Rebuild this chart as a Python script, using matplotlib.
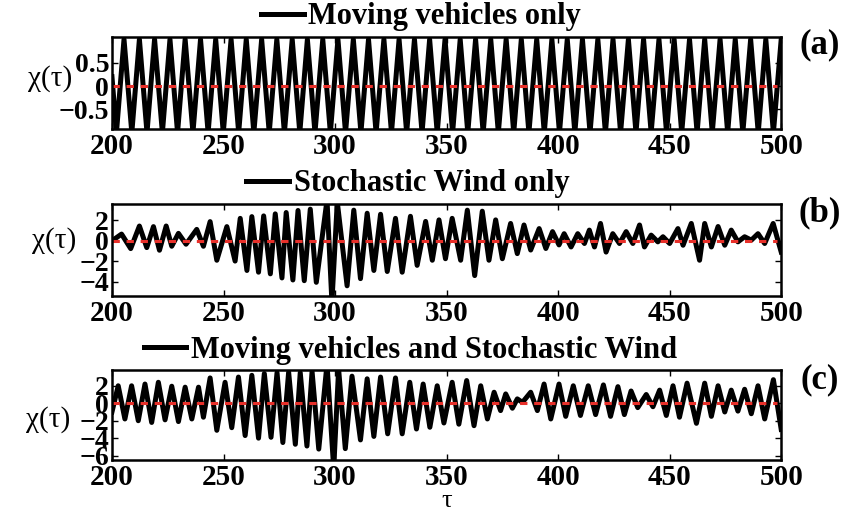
import matplotlib
matplotlib.use("Agg")
import matplotlib.pyplot as plt

plt.rcParams['font.family'] = ['Liberation Serif', 'DejaVu Serif']

# panel (a): extrema of the vehicle-only response
a_t = [200.0, 202.0, 205.4, 208.9, 212.3, 215.7, 219.1, 222.6, 226.0, 229.4, 232.8,
       236.3, 239.7, 243.1, 246.5, 249.9, 253.4, 256.8, 260.2, 263.6, 267.1,
       270.5, 273.9, 277.3, 280.8, 284.2, 287.6, 291.0, 294.5, 297.9, 301.3,
       304.7, 308.2, 311.6, 315.0, 318.4, 321.9, 325.3, 328.7, 332.1, 335.6,
       339.0, 342.4, 345.8, 349.3, 352.7, 356.1, 359.5, 363.0, 366.4, 369.8,
       373.2, 376.7, 380.1, 383.5, 386.9, 390.4, 393.8, 397.2, 400.6, 404.1,
       407.5, 410.9, 414.3, 417.8, 421.2, 424.6, 428.0, 431.5, 434.9, 438.3,
       441.7, 445.2, 448.6, 452.0, 455.4, 458.9, 462.3, 465.7, 469.1, 472.6,
       476.0, 479.4, 482.8, 486.3, 489.7, 493.1, 496.5, 500.0]
a_v = [0.2, -1.0, 1.0, -1.0, 1.0, -1.0, 1.0, -1.0, 1.0, -1.0, 1.0,
       -1.0, 1.0, -1.0, 1.0, -1.0, 1.0, -1.0, 1.0, -1.0, 1.0,
       -1.0, 1.0, -1.0, 1.0, -1.0, 1.0, -1.0, 1.0, -1.0, 1.0,
       -1.0, 1.0, -1.0, 1.0, -1.0, 1.0, -1.0, 1.0, -1.0, 1.0,
       -1.0, 1.0, -1.0, 1.0, -1.0, 1.0, -1.0, 1.0, -1.0, 1.0,
       -1.0, 1.0, -1.0, 1.0, -1.0, 1.0, -1.0, 1.0, -1.0, 1.0,
       -1.0, 1.0, -1.0, 1.0, -1.0, 1.0, -1.0, 1.0, -1.0, 1.0,
       -1.0, 1.0, -1.0, 1.0, -1.0, 1.0, -1.0, 1.0, -1.0, 1.0,
       -1.0, 1.0, -1.0, 1.0, -1.0, 1.0, -1.0, 1.0]

# panel (b): stochastic wind only
b_t = [200.0, 204.3, 208.4, 212.3, 215.6, 218.6, 221.3, 224.3, 226.8, 229.8,
       233.2, 238.0, 241.0, 244.0, 247.0, 251.5, 255.2, 257.5, 260.5, 262.7,
       265.7, 268.0, 271.0, 273.2, 276.2, 278.1, 281.1, 283.4, 286.2, 288.9,
       291.6, 296.4, 298.6, 301.0, 305.4, 308.4, 311.4, 314.4, 317.4, 320.4,
       323.4, 327.1, 330.1, 333.8, 336.8, 340.6, 343.6, 346.6, 349.5, 352.5,
       356.3, 359.3, 362.6, 366.0, 369.0, 372.0, 375.0, 378.7, 381.7, 384.7,
       387.7, 391.5, 394.5, 397.5, 400.4, 402.7, 405.8, 408.8, 411.8, 414.0,
       416.3, 419.0, 421.5, 424.5, 427.5, 430.5, 433.5, 436.5, 438.7, 441.7,
       444.7, 447.0, 450.0, 453.7, 456.0, 459.7, 463.4, 465.7, 468.7, 471.7,
       474.7, 477.6, 480.6, 483.6, 486.6, 489.6, 492.6, 496.4, 500.0]
b_v = [0.0, 0.66, -0.76, 1.45, -0.66, 1.39, -0.92, 1.45, -0.53, 0.73,
       -0.33, 1.12, -0.53, 1.88, -1.9, 1.39, -1.98, 2.2, -2.9, 2.37,
       -3.07, 2.44, -3.23, 2.64, -3.63, 2.77, -3.83, 2.97, -3.9, 3.1,
       -4.06, 4.0, -6.0, 3.8, -4.4, 3.0, -3.7, 2.7, -2.9, 2.6,
       -3.0, 2.2, -3.07, 2.4, -2.4, 1.9, -1.9, 2.05, -1.75, 2.2,
       -1.9, 3.0, -3.4, 2.9, -1.9, 2.05, -1.75, 1.7, -1.25, 1.55,
       -0.9, 1.2, -0.75, 0.9, -0.4, 0.7, -0.6, 0.7, -0.26, 1.05,
       -0.6, 1.7, -1.1, 0.7, -0.26, 0.9, -0.26, 1.55, -0.6, 0.56,
       -0.1, 0.4, -0.26, 1.2, -0.43, 1.7, -1.9, 1.7, -0.6, 1.4,
       -0.43, 1.05, -0.1, 0.4, 0.07, 0.7, -0.26, 1.7, -1.1]

# panel (c): vehicles and wind together
c_t = [200.0, 202.8, 205.8, 208.8, 211.8, 214.8, 217.8, 220.8, 223.8, 226.8,
       229.8, 232.8, 235.8, 238.8, 241.0, 244.0, 247.0, 250.7, 253.7, 256.7,
       259.7, 262.7, 265.7, 268.3, 271.3, 274.0, 276.6, 279.2, 282.2, 284.4,
       287.4, 289.7, 292.7, 296.4, 299.4, 301.6, 304.6, 307.6, 311.4, 314.4,
       317.4, 320.4, 323.6, 327.1, 330.1, 333.5, 336.5, 339.5, 342.5, 345.8,
       348.8, 352.5, 355.5, 359.0, 362.3, 365.3, 368.3, 371.3, 374.2, 376.5,
       379.5, 381.7, 384.0, 387.7, 390.7, 393.7, 396.7, 400.4, 403.4, 406.8,
       410.0, 413.5, 416.8, 420.3, 423.5, 426.8, 429.7, 432.7, 435.7, 439.5,
       442.5, 445.5, 448.5, 451.5, 454.4, 457.8, 462.0, 465.7, 468.7, 471.7,
       474.7, 477.6, 480.6, 483.6, 486.6, 489.6, 492.6, 496.5, 500.0]
c_v = [-1.0, 2.0, -1.8, 2.0, -2.0, 2.2, -2.2, 2.4, -1.9, 1.95,
       -2.1, 1.84, -1.8, 1.84, -1.6, 2.9, -3.1, 2.4, -2.8, 3.0,
       -3.7, 3.2, -4.0, 3.4, -3.9, 3.5, -4.5, 3.56, -4.7, 3.5,
       -4.9, 3.64, -5.25, 4.5, -7.5, 3.9, -5.2, 3.1, -4.2, 2.8,
       -3.8, 3.0, -3.5, 2.9, -3.5, 2.4, -2.95, 2.2, -2.75, 2.0,
       -2.26, 2.4, -2.4, 2.6, -2.57, 2.0, -1.8, 1.26, -0.84, 1.07,
       -0.57, 0.5, 0.1, 1.26, -0.84, 2.2, -1.8, 2.2, -1.5, 2.0,
       -1.4, 2.0, -1.3, 2.1, -1.5, 1.9, -1.3, 1.4, -0.5, 1.0,
       -0.4, 1.5, -1.4, 2.0, -1.6, 2.3, -2.3, 2.3, -1.5, 2.0,
       -1.0, 1.5, -0.9, 1.6, -1.2, 2.0, -1.8, 2.7, -3.0]

labels = ['Moving vehicles only', 'Stochastic Wind only',
          'Moving vehicles and Stochastic Wind']
panel_tags = ['(a)', '(b)', '(c)']
ylims = [(-0.92, 1.05), (-5.4, 3.6), (-6.5, 3.8)]
yticks = [[-0.5, 0, 0.5], [-4, -2, 0, 2], [-6, -4, -2, 0, 2]]
xticks = [200, 250, 300, 350, 400, 450, 500]

fig = plt.figure(figsize=(8.45, 5.11), dpi=100)
boxes = [[0.1325, 0.7476, 0.792, 0.180],
         [0.1325, 0.4207, 0.792, 0.180],
         [0.1325, 0.0998, 0.792, 0.176]]
series = [(a_t, a_v), (b_t, b_v), (c_t, c_v)]
tag_y = [45, 213, 380]
ylab_x = [-0.092, -0.087, -0.095]
ylab_y = [0.55, 0.6, 0.455]
leg_x = [0.462, 0.442, 0.446]

for i, (t, v) in enumerate(series):
    ax = fig.add_axes(boxes[i])
    ax.plot(t, v, color='black', lw=3.6, label=labels[i])
    ax.plot([200, 498], [0, 0], color='#e8302a', lw=2.2, ls=(0, (2.4, 2.2)))
    ax.set_xlim(200, 500)
    ax.set_ylim(*ylims[i])
    ax.set_xticks(xticks)
    ax.set_yticks(yticks[i])
    ax.set_yticklabels([('%g' % y).replace('-', '\u2212') for y in yticks[i]])
    ax.tick_params(direction='in', top=True, right=True, length=4, width=1)
    for lab in ax.get_xticklabels():
        lab.set_fontweight('bold')
        lab.set_fontsize(21)
    for lab in ax.get_yticklabels():
        lab.set_fontweight('bold')
        lab.set_fontsize(20)
    ax.tick_params(axis='x', pad=3)
    ax.tick_params(axis='y', pad=2)
    for s in ax.spines.values():
        s.set_linewidth(1.8)
    ax.text(ylab_x[i], ylab_y[i], 'χ(τ)', transform=ax.transAxes, fontsize=21,
            ha='center', va='center')
    ax.legend(loc='center', bbox_to_anchor=(leg_x[i], 1.22), frameon=False,
              handlelength=1.4, handletextpad=0.15, borderaxespad=0,
              prop={'weight': 'bold', 'size': 22})
    fig.text(820 / 845, 1 - tag_y[i] / 511, panel_tags[i], fontsize=25,
             fontweight='bold', ha='center', va='center')

# x-axis label under the bottom panel
fig.text(447 / 845, 1 - 501 / 511, 'τ', fontsize=19, ha='center', va='center')

fig.savefig('out.png', dpi=100)
